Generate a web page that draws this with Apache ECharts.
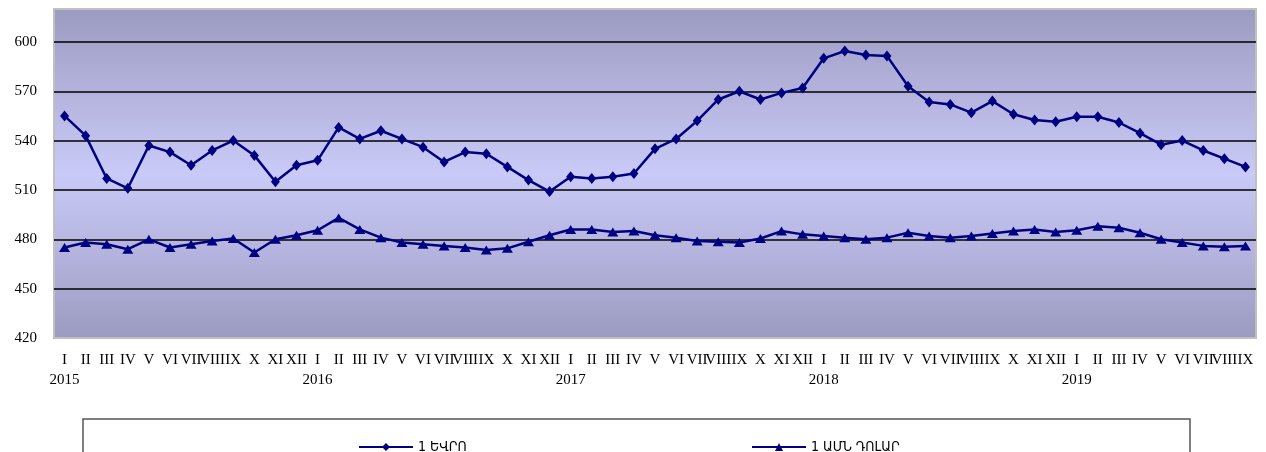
<!DOCTYPE html>
<html>
<head>
<meta charset="utf-8">
<style>
  html, body { margin: 0; padding: 0; background: #fff; }
  #chart { width: 1266px; height: 452px; }
</style>
<script src="https://cdn.jsdelivr.net/npm/echarts@6/dist/echarts.min.js"></script>
</head>
<body>
<div id="chart"></div>
<script>
const years = ['2015', '2016', '2017', '2018', '2019']
const months = ['I', 'II', 'III', 'IV', 'V', 'VI', 'VII', 'VIII', 'IX', 'X', 'XI', 'XII']
const lastYearMonths = 9

const eurName = '1 ԵՎՐՈ'
const usdName = '1 ԱՄՆ ԴՈԼԱՐ'

// monthly averages, 2015 I .. 2019 IX
const eur = [
  555, 543, 517, 511, 537, 533, 525, 534, 540, 531, 515, 525,
  528, 548, 541, 546, 541, 536, 527, 533, 532, 524, 516, 509,
  518, 517, 518, 520, 535, 541, 552, 565, 570, 565, 569, 572,
  590, 594.5, 592, 591.5, 573, 563.5, 562, 557, 564, 556, 552.5, 551.5,
  554.5, 554.5, 551, 544.5, 537.5, 540, 534, 529, 524
]
const usd = [
  475, 478, 477, 474, 480, 475, 477, 479, 480.5, 472, 480, 482.5,
  485.5, 493, 486, 481, 478, 477, 476, 475, 473.5, 474.5, 478.5, 482.5,
  486, 486, 484.5, 485, 482.5, 481, 479, 478.5, 478, 480.5, 485, 483,
  482, 481, 480, 481, 484, 482, 481, 482, 483.5, 485, 486, 484.5,
  485.5, 488, 487, 484, 480, 478, 476, 475.5, 476
]

const yMin = 420
const yMax = 620
const yStep = 30

// category labels: month numeral, with the year under every January
const categories = []
years.forEach((y, i) => {
  const n = i === years.length - 1 ? lastYearMonths : 12
  for (let m = 0; m < n; m++) categories.push(m === 0 ? months[m] + '\n' + y : months[m])
})

const navy = '#000080'
const chart = echarts.init(document.getElementById('chart'))

const legendText = { fontFamily: 'DejaVu Sans Condensed', fontSize: 14, color: '#000' }

chart.setOption({
  animation: false,
  backgroundColor: '#fff',
  grid: {
    left: 54, right: 10, top: 9, bottom: 114,
    show: true,
    borderColor: '#c0c0c0',
    borderWidth: 2,
    backgroundColor: new echarts.graphic.LinearGradient(0, 0, 0, 1, [
      { offset: 0, color: '#9b9bc1' },
      { offset: 0.5, color: '#cacaf8' },
      { offset: 1, color: '#9b9bc1' }
    ])
  },
  xAxis: {
    type: 'category',
    data: categories,
    boundaryGap: true,
    axisLine: { show: false },
    axisTick: { show: false },
    axisLabel: {
      interval: 0,
      margin: 12,
      color: '#000',
      fontFamily: 'Liberation Serif',
      fontSize: 15,
      lineHeight: 20,
      verticalAlign: 'top'
    }
  },
  yAxis: {
    type: 'value',
    min: yMin,
    max: yMax,
    interval: yStep,
    axisLine: { show: false },
    axisTick: { show: false },
    axisLabel: {
      margin: 17,
      color: '#000',
      fontFamily: 'Liberation Serif',
      fontSize: 15,
      showMaxLabel: false
    },
    splitLine: {
      show: true,
      showMinLine: false,
      showMaxLine: false,
      lineStyle: { color: '#000', width: 1.5 }
    }
  },
  legend: [
    {
      data: [eurName],
      left: 353, top: 435,
      itemWidth: 54, itemHeight: 10,
      textStyle: legendText
    },
    {
      data: [usdName],
      left: 746, top: 435,
      itemWidth: 54, itemHeight: 10,
      textStyle: legendText
    }
  ],
  graphic: [
    {
      type: 'rect',
      shape: { x: 83, y: 419, width: 1107, height: 60 },
      style: { fill: 'none', stroke: '#555', lineWidth: 1.5 },
      z: -1
    }
  ],
  series: [
    {
      name: eurName,
      type: 'line',
      data: eur,
      symbol: 'diamond',
      symbolSize: [9, 11],
      showAllSymbol: true,
      itemStyle: { color: navy },
      lineStyle: { color: navy, width: 2.5 }
    },
    {
      name: usdName,
      type: 'line',
      data: usd,
      symbol: 'triangle',
      symbolSize: [11, 9],
      showAllSymbol: true,
      itemStyle: { color: navy },
      lineStyle: { color: navy, width: 2.5 }
    }
  ]
})

window.addEventListener('resize', () => chart.resize())
</script>
</body>
</html>
